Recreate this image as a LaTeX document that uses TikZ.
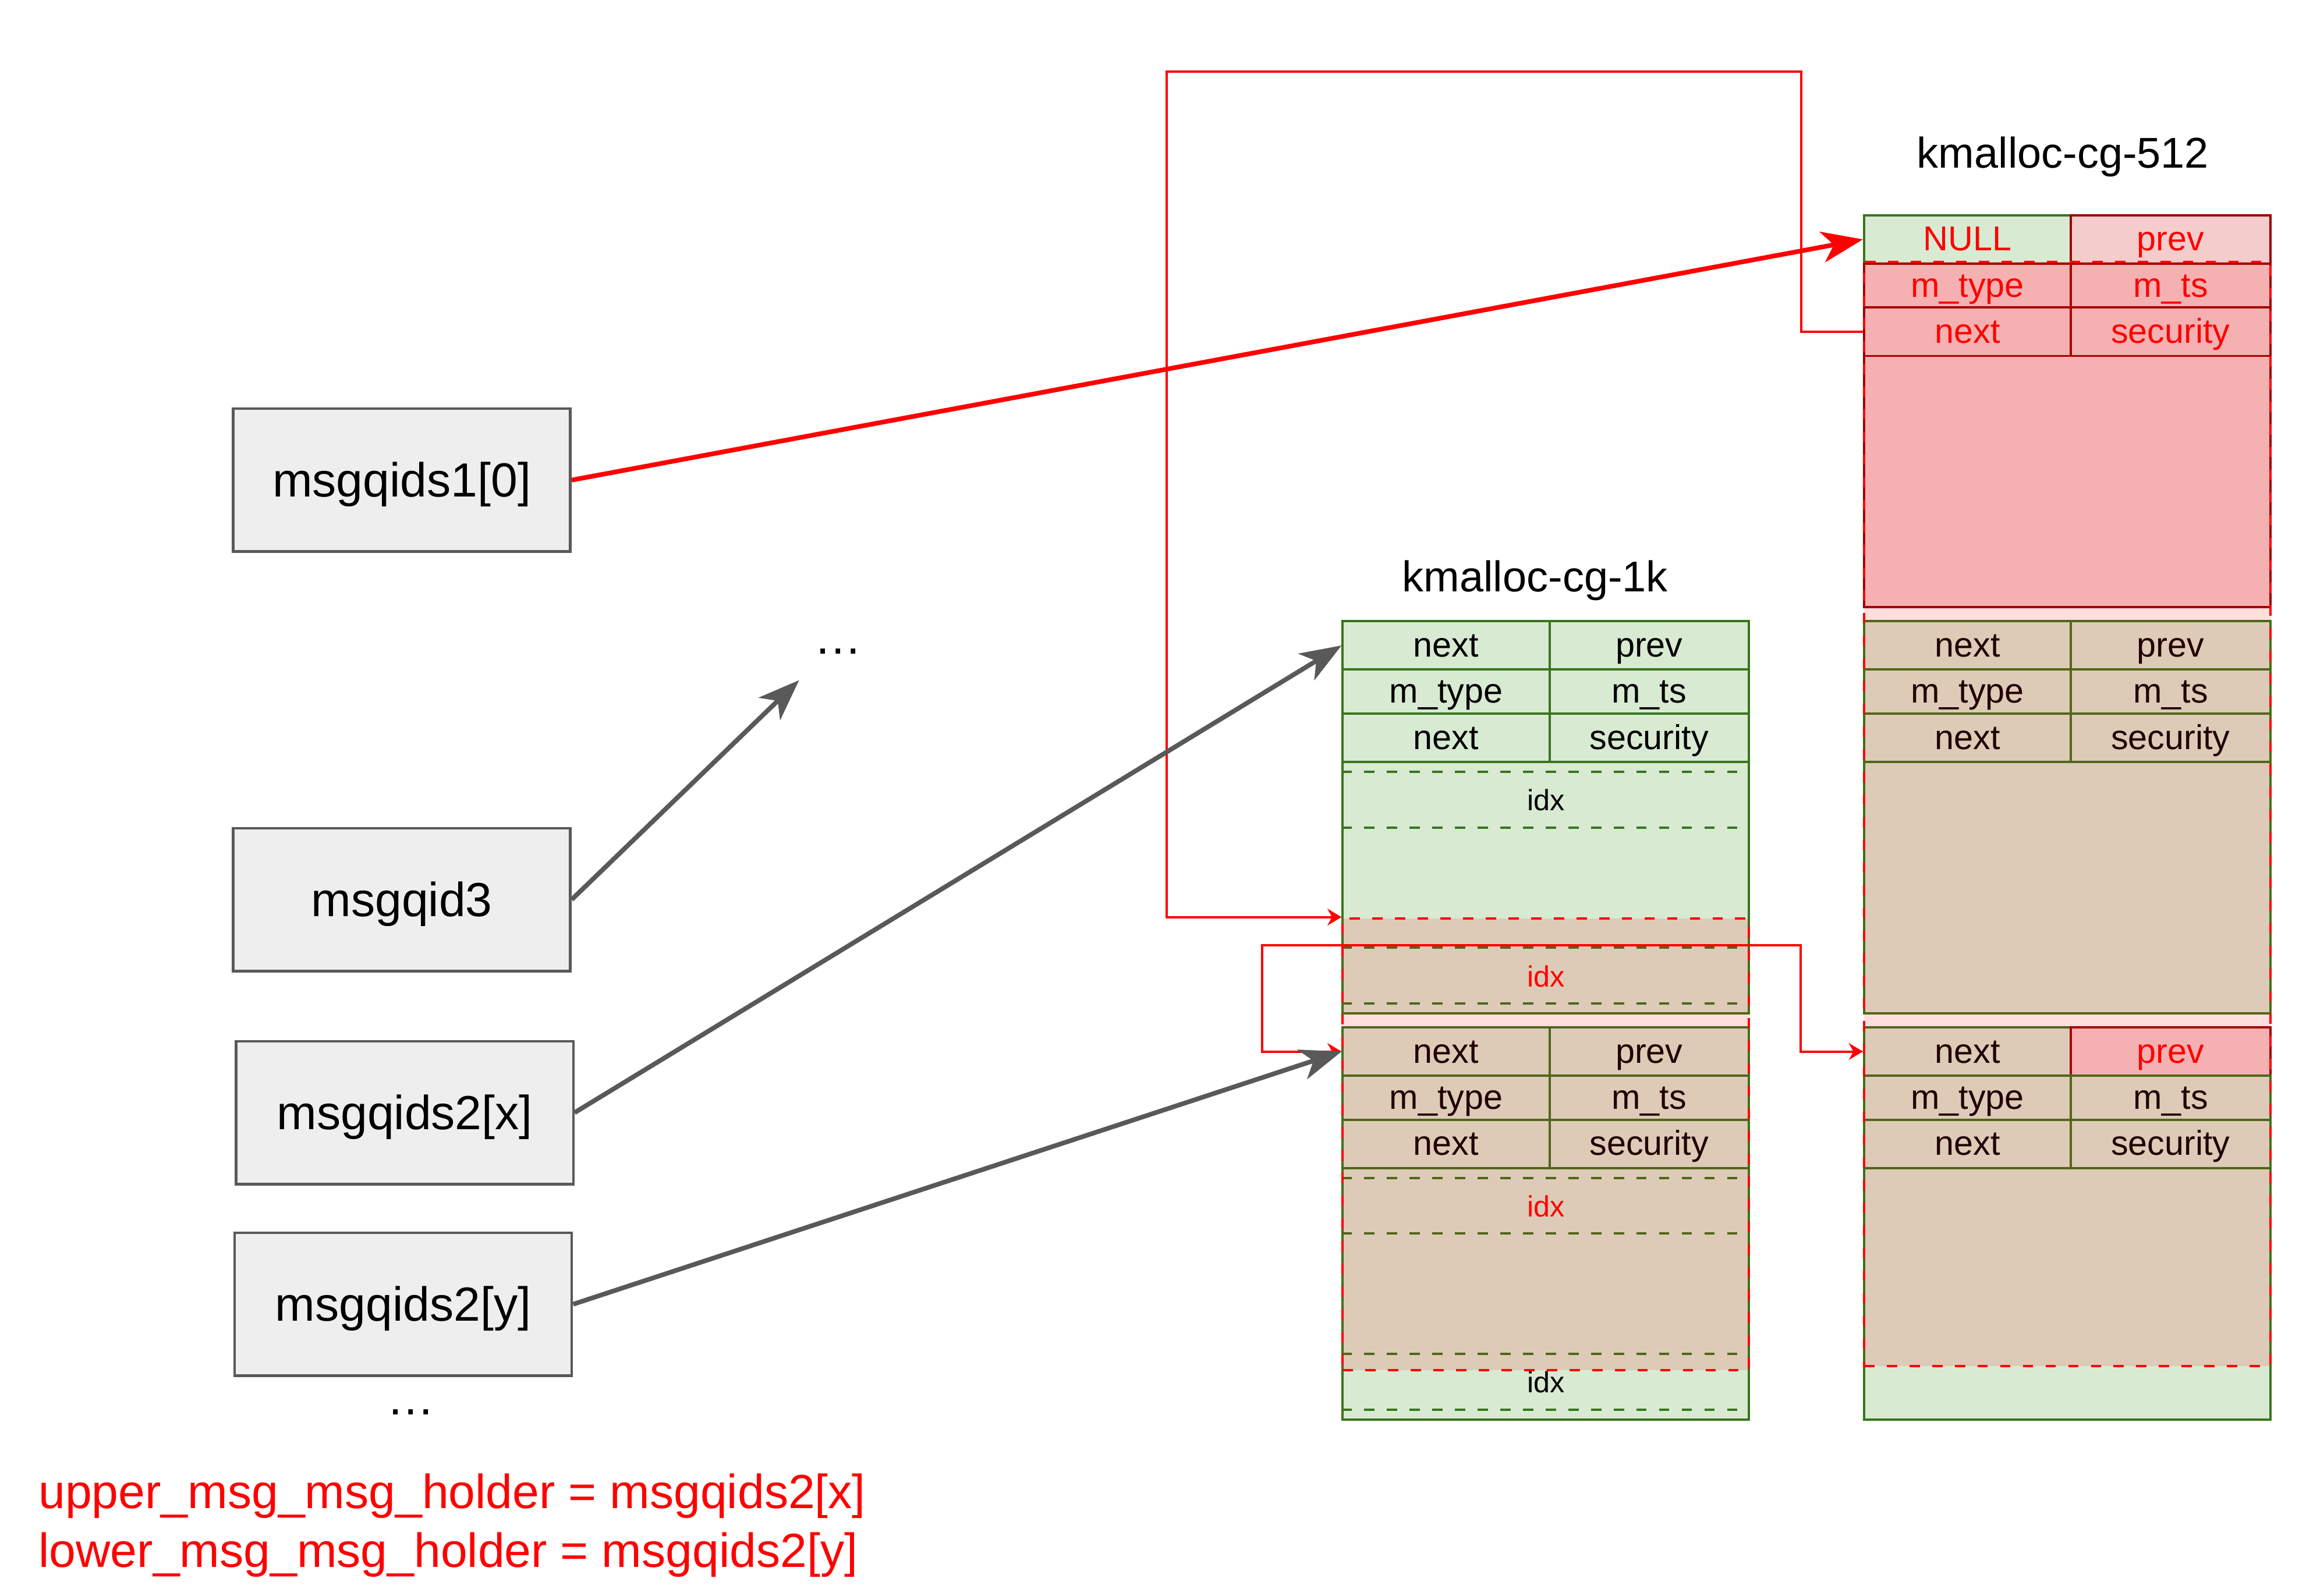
\documentclass[tikz,border=0pt]{standalone}
\usepackage{fontspec}
\setmainfont{Liberation Sans}
\usetikzlibrary{arrows.meta}

\definecolor{objgreen}{HTML}{D9EAD3}
\definecolor{linegreen}{HTML}{38761D}
\definecolor{cellred}{HTML}{F4CCCC}
\definecolor{linered}{HTML}{990000}
\definecolor{boxgray}{HTML}{EEEEEE}
\definecolor{linegray}{HTML}{595959}

\begin{document}
\begin{tikzpicture}[x=0.2mm,y=-0.2mm,
  holdtext/.style={font=\fontsize{18.6}{22}\selectfont},
  holder/.style={holdtext,draw=linegray,fill=boxgray,line width=1pt,minimum width=46mm,minimum height=19.5mm,
    text height=16.5pt,text depth=3.6pt},
  slab/.style={draw=linegreen,fill=objgreen,line width=0.9pt,minimum width=55.4mm,minimum height=53.5mm,anchor=north west,inner sep=0pt},
  lcell/.style={draw=linegreen,fill=objgreen,line width=0.9pt,minimum width=28.2mm,anchor=north west,inner sep=0pt,
    text height=11pt,text depth=2.2pt,font=\fontsize{13.4}{16}\selectfont},
  rcell/.style={lcell,minimum width=27.2mm},
  cellplain/.style={},
  hi/.style={draw=linered,fill=cellred,text=red},
  idxline/.style={draw=linegreen,line width=0.9pt,dash pattern=on 4pt off 4.8pt},
  idx/.style={inner sep=0pt,text height=10.6pt,text depth=2pt,font=\fontsize{11.4}{13}\selectfont},
  spray/.style={draw=red,fill=red,fill opacity=0.13,line width=0.9pt,dash pattern=on 4pt off 4.8pt,
    minimum width=55.4mm,anchor=north west,inner sep=0pt},
  title/.style={font=\fontsize{16.7}{20}\selectfont},
  ptr/.style={draw=linegray,line width=1.8pt,>={Stealth[length=16pt,width=12pt,inset=4.5pt]},->},
  link/.style={draw=red,line width=0.9pt,>={Stealth[length=5.5pt,width=6.5pt,inset=1.8pt]},->}
]
\path[use as bounding box,fill=white] (0,0) rectangle (1568,1088.4);

% the msg holders
\node[holder] (m1) at (274,327.5) {msgqids1[0]};
\node[holder] (m3) at (274,613.7) {msgqid3};
\node[holder] (mx) at (276,759) {msgqids2[x]};
\node[holder] (my) at (275,889.7) {msgqids2[y]};
\node[holdtext,anchor=base] (dots1) at (571.5,446) {…};
\coordinate (dotstip) at (545,464);
\node[holdtext,anchor=base] (dots2) at (280,965) {…};

\node[holdtext,text=red,inner sep=0pt,anchor=base west] (upper) at (26,1029) {upper\_msg\_msg\_holder = msgqids2[x]};
\node[holdtext,text=red,inner sep=0pt,anchor=base west] (lower) at (26,1069) {lower\_msg\_msg\_holder = msgqids2[y]};

% the caches
\node[title] (t1k) at (1047,396) {kmalloc-cg-1k};
\node[title] (t512) at (1407,107) {kmalloc-cg-512};

% first object of kmalloc-cg-512
\node[slab,draw=linered,fill=cellred] (sa) at (1270.6,146) {};
\node[lcell,text=red,minimum height=6.6mm] (sa-null) at (1270.6,146) {NULL};
\node[rcell,hi,minimum height=6.6mm] (sa-prev) at (1411.6,146) {prev};
\node[lcell,hi,minimum height=6mm] (sa-type) at (1270.6,179) {m\_type};
\node[rcell,hi,minimum height=6mm] (sa-ts) at (1411.6,179) {m\_ts};
\node[lcell,hi,minimum height=6.6mm] (sa-next) at (1270.6,209) {next};
\node[rcell,hi,minimum height=6.6mm] (sa-sec) at (1411.6,209) {security};

% the other objects
\foreach \ob/\x/\y/\pv in {k1/915/423/cellplain, k2/915/700/cellplain, sb/1270.6/423/cellplain, sc/1270.6/700/hi} {
  \node[slab] (\ob) at (\x,\y) {};
  \node[lcell,minimum height=6.6mm] (\ob-next) at (\x,\y) {next};
  \node[rcell,minimum height=6.6mm,\pv] (\ob-prev) at (\x+141,\y) {prev};
  \node[lcell,minimum height=6mm] (\ob-type) at (\x,\y+33) {m\_type};
  \node[rcell,minimum height=6mm] (\ob-ts) at (\x+141,\y+33) {m\_ts};
  \node[lcell,minimum height=6.6mm] (\ob-next2) at (\x,\y+63) {next};
  \node[rcell,minimum height=6.6mm] (\ob-sec) at (\x+141,\y+63) {security};
}

% idx fields
\foreach \ob/\ca/\cb in {k1/black/red, k2/red/black} {
  \foreach \d in {103.5,141.5,223.5,261.5}
    \draw[idxline] (\ob.north west) ++(0,\d) -- ++(277,0);
  \path (\ob.north) ++(0,122.5) node[idx,text=\ca] (\ob-idx1) {idx};
  \path (\ob.north) ++(0,242.5) node[idx,text=\cb] (\ob-idx2) {idx};
}

% the sprayed fake msg
\node[spray,minimum height=61.66mm] (spray1k) at (915,625.6) {};
\node[spray,minimum height=150.6mm] (spray512) at (1270.6,178) {};

% the edges
\draw[link] (sa-next.west) -- ++(-42,0) -- ++(0,-177.5) -- ++(-433,0) |- (spray1k.north west);
\draw[link,<->] (k2-next.west) -- ++(-54,0) -- ++(0,-72.5) -- ++(367,0) |- (sc-next.west);
\draw[ptr,draw=red] (m1.east) -- (sa-null.west);
\draw[ptr] (m3.east) -- (dotstip);
\draw[ptr] (mx.east) -- (k1-next.west);
\draw[ptr] (my.east) -- (k2-next.west);

\end{tikzpicture}
\end{document}
